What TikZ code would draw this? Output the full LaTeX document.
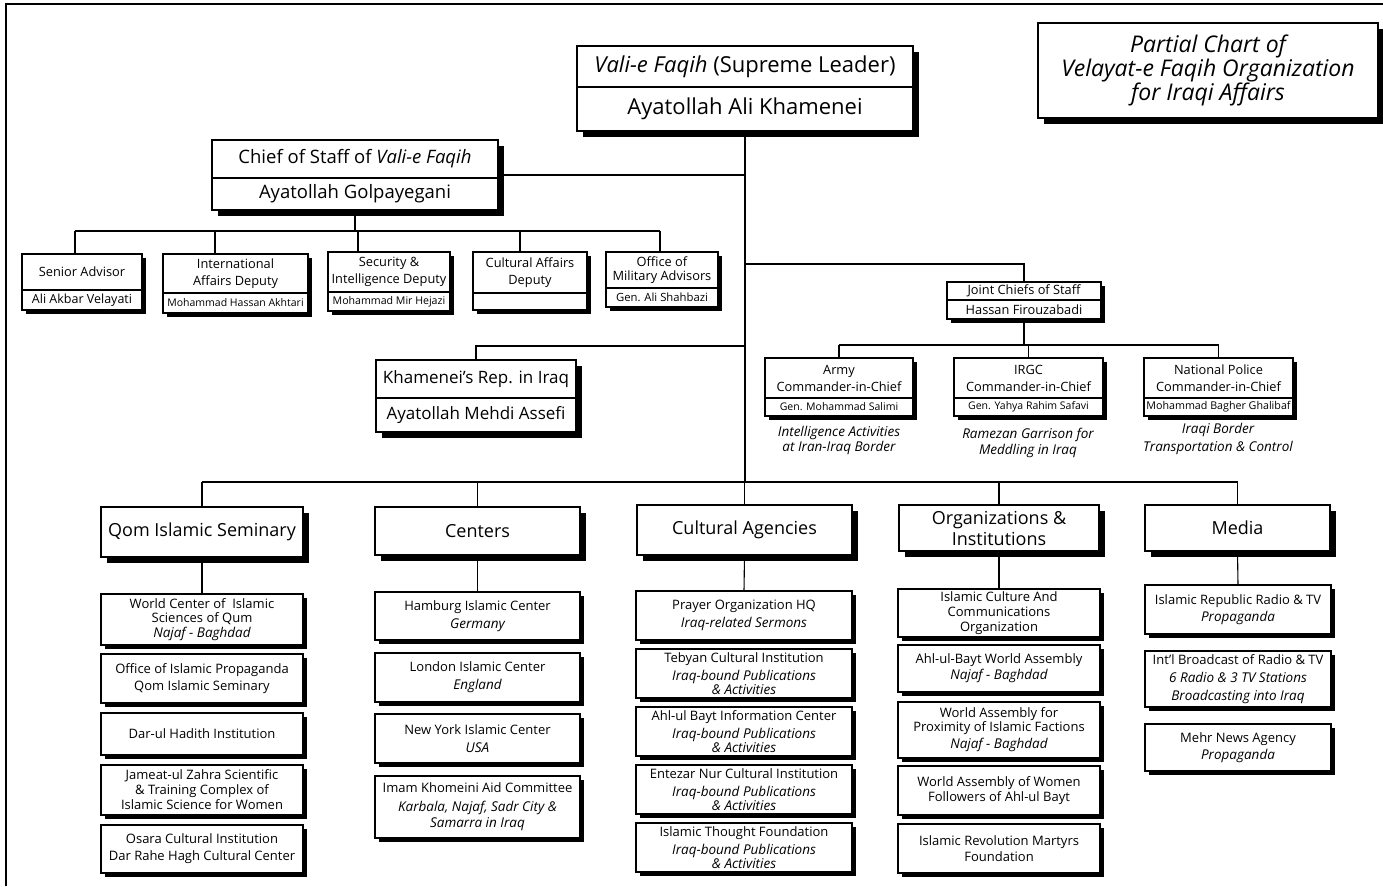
\documentclass[tikz,border=0pt]{standalone}
\usepackage{fontspec}
\setmainfont{Open Sans}
\usetikzlibrary{shadows}
\newcommand\fsz[2]{\fontsize{#1}{#2}\selectfont}
\tikzset{
  box/.style={draw, line width=1.3pt, fill=white, inner sep=0pt, outer sep=0pt, align=center,
    font=\fsz{13}{15},
    drop shadow={shadow xshift=4pt, shadow yshift=-4pt, fill=black, opacity=1}},
  bigbox/.style={draw, line width=1.4pt, fill=white, inner sep=0pt, outer sep=0pt, align=center,
    drop shadow={shadow xshift=5.5pt, shadow yshift=-5.5pt, fill=black, opacity=1}},
  conn/.style={line width=1.1pt},
  divl/.style={line width=1.1pt},
  txt/.style={inner sep=0pt, align=center},
  curfont/.style={font=\fsz{13}{15}},
}
\newcommand\itx[1]{{\fontsize{13.5}{15}\selectfont\itshape #1}}
% box with text: [style]{name}{x1}{y1}{x2}{y2}{text}
\newcommand\bx[7][box]{\node[#1, minimum width={(#5-#3)*1pt}, minimum height={(#6-#4)*1pt}, anchor=north west] (#2) at (#3,#4) {#7};}
% split box: [style]{name}{x1}{y1}{x2}{y2}{ydiv}{top}{bottom}
\newcommand\sbx[9][box]{%
  \bx[#1]{#2}{#3}{#4}{#5}{#6}{}%
  \draw[divl] (#2.west |- 0,#7) -- (#2.east |- 0,#7);
  \node[txt, curfont] (#2-t) at ({(#3+#5)/2},{(#4+#7)/2}) {#8};
  \node[txt, curfont] (#2-b) at ({(#3+#5)/2},{(#7+#6)/2}) {#9};}
\begin{document}
\begin{tikzpicture}[x=1pt, y=-1pt]
\useasboundingbox (0,0) rectangle (1383,886);
% frame
\coordinate (fbl) at (6,886);
\coordinate (ftl) at (6,4);
\coordinate (ftr) at (1383,4);
\draw[line width=1.3pt] (fbl) -- (ftl) -- (ftr);

% title
\bx[bigbox, font=\fsz{23}{22.5}\itshape]{title}{1038}{23}{1378}{118}{Partial Chart of\\Velayat-e Faqih Organization\\for Iraqi Affairs}

% supreme leader
\tikzset{curfont/.style={font=\fsz{22}{24}}}
\sbx[bigbox]{sl}{577}{46}{913}{131}{87}{\textit{Vali-e Faqih} (Supreme Leader)}{Ayatollah Ali Khamenei}

% chief of staff
\tikzset{curfont/.style={font=\fsz{18.5}{20}}}
\sbx[bigbox]{cos}{212}{140}{498}{210}{178}{Chief of Staff of \textit{Vali-e Faqih}}{Ayatollah Golpayegani}

% rep in Iraq
\tikzset{curfont/.style={font=\fsz{17}{19}}}
\sbx[bigbox]{rep}{376}{360}{576}{432}{398}{Khamenei’s Rep. in Iraq}{Ayatollah Mehdi Assefi}

% advisors
\tikzset{curfont/.style={font=\fsz{12.8}{17}}}
\sbx{adv1}{22}{254}{142}{310}{290}{Senior Advisor}{\fsz{12.5}{13}Ali Akbar Velayati}
\sbx{adv2}{163}{254}{308}{313}{293}{International\\Affairs Deputy}{\fsz{10.5}{12}Mohammad Hassan Akhtari}
\sbx{adv3}{328}{252}{450}{311}{292}{Security \&\\Intelligence Deputy}{\fsz{10.6}{12}Mohammad Mir Hejazi}
\sbx{adv4}{473}{252}{587}{310}{293}{Cultural Affairs\\Deputy}{}
\tikzset{curfont/.style={font=\fsz{12.8}{14}}}
\sbx{adv5}{606}{252}{718}{307}{288}{Office of\\Military Advisors}{\fsz{11.3}{12}Gen. Ali Shahbazi}

% joint chiefs
\tikzset{curfont/.style={font=\fsz{12.8}{17}}}
\sbx{jcs}{947}{282}{1101}{319}{300}{Joint Chiefs of Staff}{Hassan Firouzabadi}
\sbx{army}{765}{358}{913}{416}{398}{Army\\Commander-in-Chief}{\fsz{10.5}{12}Gen. Mohammad Salimi}
\sbx{irgc}{954}{358}{1103}{416}{398}{IRGC\\Commander-in-Chief}{\fsz{10.5}{12}Gen. Yahya Rahim Safavi}
\sbx{pol}{1144}{358}{1293}{416}{398}{National Police\\Commander-in-Chief}{\fsz{10.7}{12}Mohammad Bagher Ghalibaf}
\node[txt, font=\fsz{13.5}{15}\itshape] (armyn) at (839,440.5) {Intelligence Activities\\at Iran-Iraq Border};
\node[txt, font=\fsz{13.5}{16}\itshape] (irgcn) at (1028,443) {Ramezan Garrison for\\Meddling in Iraq};
\node[txt, font=\fsz{13.5}{18}\itshape] (poln) at (1218,439) {Iraqi Border\\Transportation \& Control};

% categories
\bx[bigbox, font=\fsz{18}{21}]{c1}{101}{507}{303}{557}{Qom Islamic Seminary}
\bx[bigbox, font=\fsz{18}{21}]{c2}{375}{507}{580}{555}{Centers}
\bx[bigbox, font=\fsz{18}{21}]{c3}{637}{505}{852}{555}{Cultural Agencies}
\bx[bigbox, font=\fsz{18}{21}]{c4}{899}{505}{1099}{551}{Organizations \&\\Institutions}
\bx[bigbox, font=\fsz{18}{21}]{c5}{1145}{505}{1330}{551}{Media}

% Qom column
\bx[box, font=\fsz{13}{14.5}]{q1}{101}{594}{303}{645}{World Center of\ \ Islamic\\Sciences of Qum\\\itx{Najaf - Baghdad}}
\bx[box, font=\fsz{13}{17}]{q2}{101}{654}{303}{703}{Office of Islamic Propaganda\\Qom Islamic Seminary}
\bx[box, font=\fsz{13}{17}]{q3}{101}{713}{303}{755}{Dar-ul Hadith Institution}
\bx[box, font=\fsz{13}{15}]{q4}{101}{765}{303}{815}{Jameat-ul Zahra Scientific\\\& Training Complex of\\Islamic Science for Women}
\bx[box, font=\fsz{13}{17}]{q5}{101}{825}{303}{873}{Osara Cultural Institution\\Dar Rahe Hagh Cultural Center}

% Centers column
\bx[box, font=\fsz{13}{18}]{e1}{375}{592}{580}{640}{Hamburg Islamic Center\\\itx{Germany}}
\bx[box, font=\fsz{13}{18}]{e2}{375}{653}{580}{702}{London Islamic Center\\\itx{England}}
\bx[box, font=\fsz{13}{18}]{e3}{375}{714}{580}{763}{New York Islamic Center\\\itx{USA}}
\bx[box, font=\fsz{13}{16}]{e4}{375}{776}{580}{838}{Imam Khomeini Aid Committee\\[3pt]\itx{Karbala, Najaf, Sadr City \&}\\\itx{Samarra in Iraq}}

% Cultural agencies column
\bx[box, font=\fsz{13}{18}]{a1}{636}{591}{852}{640}{Prayer Organization HQ\\\itx{Iraq-related Sermons}}
\bx[box, font=\fsz{13}{13.5}]{a2}{636}{649}{852}{698}{Tebyan Cultural Institution\\[5pt]\itx{Iraq-bound Publications}\\\itx{\& Activities}}
\bx[box, font=\fsz{13}{13.5}]{a3}{636}{707}{852}{756}{Ahl-ul Bayt Information Center\\[5pt]\itx{Iraq-bound Publications}\\\itx{\& Activities}}
\bx[box, font=\fsz{13}{13.5}]{a4}{636}{765}{852}{814}{Entezar Nur Cultural Institution\\[5pt]\itx{Iraq-bound Publications}\\\itx{\& Activities}}
\bx[box, font=\fsz{13}{13.5}]{a5}{636}{823}{852}{872}{Islamic Thought Foundation\\[5pt]\itx{Iraq-bound Publications}\\\itx{\& Activities}}

% Organizations column
\bx[box, font=\fsz{13}{15}]{o1}{898}{589}{1100}{637}{Islamic Culture And\\Communications\\Organization}
\bx[box, font=\fsz{13}{16}]{o2}{898}{645}{1100}{692}{Ahl-ul-Bayt World Assembly\\\itx{Najaf - Baghdad}}
\bx[box, font=\fsz{13}{14}]{o3}{898}{702}{1100}{758}{World Assembly for\\Proximity of Islamic Factions\\[3pt]\itx{Najaf - Baghdad}}
\bx[box, font=\fsz{13}{15}]{o4}{898}{766}{1100}{815}{World Assembly of Women\\Followers of Ahl-ul Bayt}
\bx[box, font=\fsz{13}{16}]{o5}{898}{824}{1100}{873}{Islamic Revolution Martyrs\\Foundation}

% Media column
\bx[box, font=\fsz{13}{17}]{m1}{1145}{585}{1331}{634}{Islamic Republic Radio \& TV\\\itx{Propaganda}}
\bx[box, font=\fsz{13}{18}]{m2}{1145}{651}{1331}{707}{Int’l Broadcast of Radio \& TV\\\itx{6 Radio \& 3 TV Stations}\\\itx{Broadcasting into Iraq}}
\bx[box, font=\fsz{13}{17}]{m3}{1145}{724}{1331}{771}{Mehr News Agency\\\itx{Propaganda}}

% ---- connectors ----
\coordinate (trunk) at (sl.south |- 0,482);
\draw[conn] (sl.south) -- (trunk);
\draw[conn] (cos.east) -- (cos.east -| sl.south);
% advisors bus
\coordinate (ab1) at (75,231);
\coordinate (ab2) at (215,231);
\coordinate (ab3) at (358,231);
\coordinate (ab4) at (520,231);
\coordinate (ab5) at (660,231);
\draw[conn] (ab1) -- (ab5);
\draw[conn] (cos.south) -- (cos.south |- ab1);
\draw[conn] (ab1) -- (ab1 |- adv1.north);
\draw[conn] (ab2) -- (ab2 |- adv2.north);
\draw[conn] (ab3) -- (ab3 |- adv3.north);
\draw[conn] (ab4) -- (ab4 |- adv4.north);
\draw[conn] (ab5) -- (ab5 |- adv5.north);
% joint chiefs
\coordinate (jb) at (sl.south |- 0,264);
\draw[conn] (jb) -| (jcs.north);
\coordinate (cb) at (jcs.south |- 0,345);
\draw[conn] (jcs.south) -- (cb);
\draw[conn] (army.north |- cb) -- (pol.north |- cb);
\draw[conn] (army.north |- cb) -- (army.north);
\draw[conn] (irgc.north |- cb) -- (irgc.north);
\draw[conn] (pol.north |- cb) -- (pol.north);
% rep
\coordinate (rb) at (sl.south |- 0,346);
\draw[conn] (rb) -| (rep.north);
% bottom bus
\draw[conn] (c1.north |- trunk) -- (c5.north |- trunk);
\draw[conn] (c1.north |- trunk) -- (c1.north);
\draw[conn] (c2.north |- trunk) -- (c2.north);
\draw[conn] (c3.north |- trunk) -- (c3.north);
\draw[conn] (c4.north |- trunk) -- (c4.north);
\draw[conn] (c5.north |- trunk) -- (c5.north);
\draw[conn] (c1.south) -- (q1.north);
\draw[conn] (c2.south) -- (e1.north);
\draw[conn] (c3.south) -- (a1.north);
\draw[conn] (c4.south) -- (o1.north);
\draw[conn] (c5.south) -- (m1.north);
\end{tikzpicture}
\end{document}
